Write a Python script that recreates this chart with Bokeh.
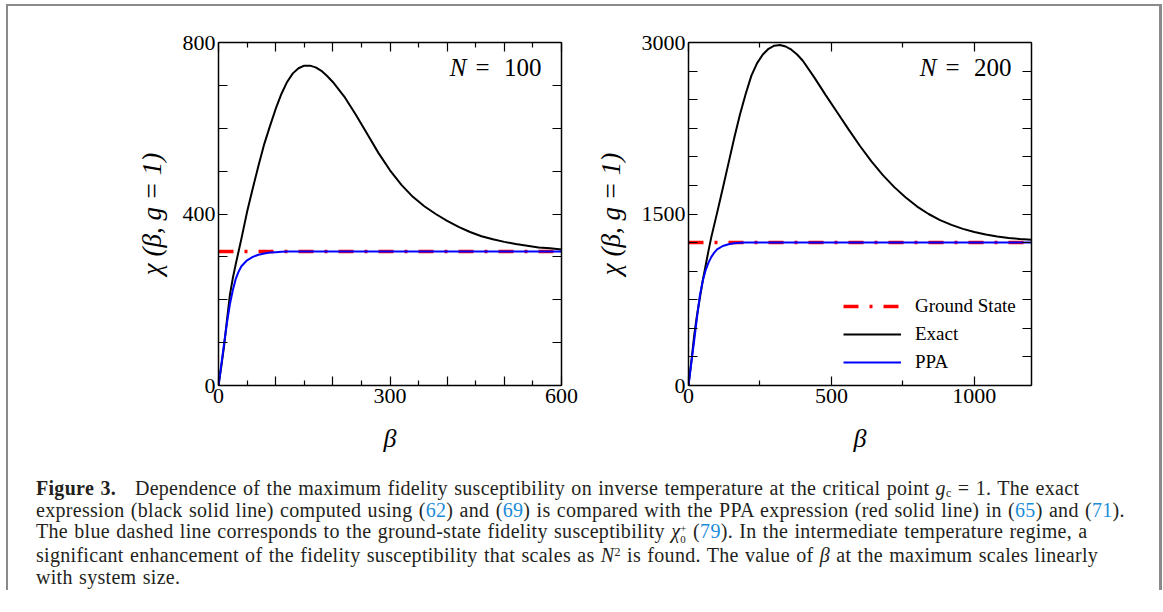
from bokeh.plotting import figure
from bokeh.models import FixedTicker, LinearAxis, Range1d, Label, Legend, LegendItem, Div
from bokeh.layouts import column, row
from bokeh.embed import file_html
from bokeh.resources import INLINE

# ---------------- data ----------------
# N = 100 panel
beta1 = [0, 5, 10, 15, 20, 25, 30, 35, 40, 50, 60, 70, 80, 90, 100, 110, 120, 130, 140, 150,
         160, 170, 180, 190, 200, 220, 240, 260, 280, 300, 320, 340, 360, 380, 400, 420, 440,
         460, 480, 500, 520, 540, 560, 580, 600]
exact1 = [0, 45, 95, 155, 212, 250, 282, 312, 342, 405, 460, 513, 563, 605, 645, 680, 708, 728,
          740, 746, 746, 742, 734, 722, 708, 674, 632, 587, 542, 502, 468, 440, 418, 400, 384,
          370, 358, 348, 341, 335, 330, 326, 322, 320, 317]
ppa_beta1 = [0, 5, 10, 15, 20, 25, 30, 35, 40, 50, 60, 70, 80, 90, 100, 110, 120, 200, 300, 400, 500, 600]
ppa1 = [0, 50, 100, 148, 190, 222, 248, 265, 278, 292, 300, 305, 308, 310, 311, 312, 312.5,
        312.5, 312.5, 312.5, 312.5, 312.5]
gs_beta1 = [0, 600]
gs1 = [312.5, 312.5]

# N = 200 panel
beta2 = [0, 10, 20, 30, 40, 50, 60, 70, 80, 100, 120, 140, 160, 180, 200, 220, 240, 260, 280,
         300, 320, 340, 360, 380, 400, 440, 480, 520, 560, 600, 640, 680, 720, 760, 800, 840,
         880, 920, 960, 1000, 1040, 1080, 1120, 1160, 1200]
exact2 = [0, 210, 440, 620, 770, 920, 1050, 1180, 1300, 1510, 1725, 1945, 2165, 2370, 2550,
          2710, 2820, 2895, 2945, 2972, 2978, 2965, 2937, 2895, 2840, 2695, 2540, 2390, 2240,
          2095, 1960, 1840, 1735, 1645, 1565, 1500, 1447, 1405, 1370, 1342, 1320, 1303, 1290,
          1281, 1275]
ppa_beta2 = [0, 10, 20, 30, 40, 50, 60, 70, 80, 90, 100, 120, 140, 160, 180, 200, 400, 600, 800, 1000, 1200]
ppa2 = [0, 200, 395, 600, 790, 916, 1010, 1075, 1125, 1162, 1190, 1220, 1236, 1244, 1248, 1250,
        1250, 1250, 1250, 1250, 1250]
gs_beta2 = [0, 1200]
gs2 = [1250, 1250]

# ticks
x1_major = [0, 100, 200, 300, 400, 500, 600]
x1_minor = [50, 150, 250, 350, 450, 550]
x1_labels = [0, 300, 600]
y1_major = [0, 100, 200, 300, 400, 500, 600, 700, 800]
y1_labels = [0, 400, 800]
x2_major = [0, 500, 1000]
x2_minor = [250, 750]
x2_labels = [0, 500, 1000]
y2_major = [0, 250, 500, 750, 1000, 1250, 1500, 1750, 2000, 2250, 2500, 2750, 3000]
y2_labels = [0, 1500, 3000]

panel_titles = ["100", "200"]
legend_labels = ["Ground State", "Exact", "PPA"]

FONT = "Liberation Serif"
RED = "#ff0000"
BLUE = "#0000ff"


def style_axis(ax, ticks, minor, labelled, show_labels=True):
    ax.ticker = FixedTicker(ticks=ticks, minor_ticks=minor)
    ax.axis_line_width = 1.5
    ax.axis_line_color = "black"
    ax.major_tick_in = 9
    ax.major_tick_out = 0
    ax.minor_tick_in = 5
    ax.minor_tick_out = 0
    ax.major_tick_line_width = 1.2
    ax.minor_tick_line_width = 1.2
    ax.major_tick_line_color = "black"
    ax.minor_tick_line_color = "black"
    ax.major_label_text_font = FONT
    ax.major_label_text_color = "black"
    ax.major_label_standoff = 3
    if show_labels:
        ax.major_label_text_font_size = "22px"
        ax.major_label_overrides = {t: "" for t in ticks if t not in labelled}
    else:
        ax.major_label_text_font_size = "0px"
        ax.major_label_overrides = {t: "" for t in ticks}


def panel(xmax, ymax, xt, xm, xl, yt, yl, left, right, width):
    p = figure(width=width, height=465, x_range=Range1d(0, xmax), y_range=Range1d(0, ymax),
               output_backend="svg", toolbar_location=None,
               min_border_left=left, min_border_right=right,
               min_border_top=36, min_border_bottom=86,
               x_axis_location=None, y_axis_location=None)
    p.xgrid.visible = False
    p.ygrid.visible = False
    p.outline_line_color = None
    p.background_fill_color = "white"
    p.border_fill_color = "white"

    bottom = LinearAxis()
    style_axis(bottom, xt, xm, xl)
    bottom.axis_label = "β"
    bottom.axis_label_text_font = FONT
    bottom.axis_label_text_font_style = "italic"
    bottom.axis_label_text_font_size = "26px"
    bottom.axis_label_text_color = "black"
    bottom.axis_label_standoff = 18
    p.add_layout(bottom, "below")

    leftax = LinearAxis()
    style_axis(leftax, yt, [], yl)
    leftax.axis_label = "χ (β, g = 1)"
    leftax.axis_label_text_font = FONT
    leftax.axis_label_text_font_style = "italic"
    leftax.axis_label_text_font_size = "27px"
    leftax.axis_label_text_color = "black"
    leftax.axis_label_standoff = 13
    p.add_layout(leftax, "left")

    top = LinearAxis()
    style_axis(top, xt, xm, xl, show_labels=False)
    p.add_layout(top, "above")
    rightax = LinearAxis()
    style_axis(rightax, yt, [], yl, show_labels=False)
    p.add_layout(rightax, "right")
    return p


def add_title(p, num):
    common = dict(x_units="screen", y_units="screen", y=318, text_font=FONT,
                  text_font_size="25px", text_color="black", text_baseline="alphabetic")
    p.add_layout(Label(x=248, text="N", text_align="right", text_font_style="italic", **common))
    p.add_layout(Label(x=264, text="=", text_align="center", **common))
    p.add_layout(Label(x=323, text=num, text_align="right", **common))


p1 = panel(600, 800, x1_major, x1_minor, x1_labels, y1_major, y1_labels, 210, 20, 573)
p1.line(gs_beta1, gs1, line_color=RED, line_width=3.5, line_dash="15 11 3 11")
p1.line(beta1, exact1, line_color="black", line_width=2)
p1.line(ppa_beta1, ppa1, line_color=BLUE, line_width=2)
add_title(p1, panel_titles[0])

p2 = panel(1200, 3000, x2_major, x2_minor, x2_labels, y2_major, y2_labels, 107, 128, 578)
r_gs = p2.line(gs_beta2, gs2, line_color=RED, line_width=3.5, line_dash="15 11 3 11")
r_ex = p2.line(beta2, exact2, line_color="black", line_width=2)
r_pp = p2.line(ppa_beta2, ppa2, line_color=BLUE, line_width=2)
add_title(p2, panel_titles[1])

legend = Legend(items=[LegendItem(label=legend_labels[0], renderers=[r_gs]),
                       LegendItem(label=legend_labels[1], renderers=[r_ex]),
                       LegendItem(label=legend_labels[2], renderers=[r_pp])],
                location=(155, 12))
legend.label_text_font = FONT
legend.label_text_font_size = "19px"
legend.label_text_color = "black"
legend.glyph_width = 58
legend.glyph_height = 20
legend.label_height = 20
legend.label_standoff = 14
legend.spacing = 6
legend.padding = 0
legend.margin = 0
legend.border_line_color = None
legend.background_fill_alpha = 0
p2.add_layout(legend)

LINK = "#1a8cd8"


def ref(n):
    return '(<span style="color:%s">%s</span>)' % (LINK, n)


caption_html = (
    '<b>Figure 3.</b>&nbsp;&nbsp; Dependence of the maximum fidelity susceptibility on inverse '
    'temperature at the critical point <i>g</i><span style="font-size:12px;vertical-align:-2px;line-height:0">c</span> = 1. The exact<br>'
    'expression (black solid line) computed using ' + ref(62) + ' and ' + ref(69) +
    ' is compared with the PPA expression (red solid line) in ' + ref(65) + ' and ' + ref(71) + '.<br>'
    'The blue dashed line corresponds to the ground-state fidelity susceptibility <i>χ</i>'
    '<span style="display:inline-block;font-size:11px;line-height:11px;vertical-align:-5px;">+<br>0</span> '
    + ref(79) + '. In the intermediate temperature regime, a<br>'
    'significant enhancement of the fidelity susceptibility that scales as <i>N</i>'
    '<span style="font-size:12px;vertical-align:6px;line-height:0">2</span> is found. The value of '
    '<i>β</i> at the maximum scales linearly<br>'
    'with system size.'
)

caption = Div(text=caption_html, width=1120, height=112, margin=(7, 0, 0, 28),
              styles={"font-family": "'Liberation Serif', serif", "font-size": "20px",
                      "letter-spacing": "0.3px", "word-spacing": "1px",
                      "line-height": "21.7px", "color": "#231f20", "white-space": "nowrap"})

layout = column(row(p1, p2), caption, margin=(4, 0, 0, 6),
                styles={"border-left": "2px solid #8a8a8a", "border-top": "2px solid #8a8a8a",
                        "border-right": "3px solid #8a8a8a", "border-bottom": "none",
                        "background": "white"})

open("out.html", "w").write(file_html(layout, INLINE))
